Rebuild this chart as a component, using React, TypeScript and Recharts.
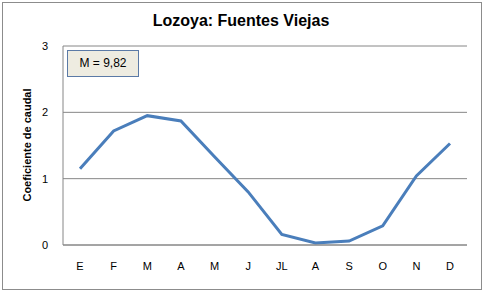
import { LineChart, Line, XAxis, YAxis, CartesianGrid } from 'recharts'

// Monthly flow coefficients (reading from the reference)
const MONTHS = ['E', 'F', 'M', 'A', 'M', 'J', 'JL', 'A', 'S', 'O', 'N', 'D']
const COEFS = [1.15, 1.72, 1.95, 1.87, 1.33, 0.8, 0.16, 0.03, 0.06, 0.29, 1.04, 1.53]
const Y_TICKS = [0, 1, 2, 3]

const TITLE = 'Lozoya: Fuentes Viejas'
const Y_LABEL = 'Coeficiente de caudal'
const NOTE = 'M = 9,82'

const data = MONTHS.map((m, i) => ({ key: i, month: m, coef: COEFS[i] }))

const GRID = '#868686'
const LINE = '#4a7ebb'
const FONT = '"Liberation Sans", Arial, sans-serif'

export default function App() {
  return (
    <div style={{ position: 'absolute', left: 0, top: 0, width: 484, height: 292, background: '#fff', fontFamily: FONT }}>
      <div
        style={{
          position: 'absolute',
          left: 2,
          top: 2,
          width: 478,
          height: 286,
          border: '1px solid #8c8c8c',
        }}
      />
      <div
        style={{
          position: 'absolute',
          left: 0,
          top: 12,
          width: 482,
          textAlign: 'center',
          fontWeight: 'bold',
          fontSize: 16,
          color: '#000',
        }}
      >
        {TITLE}
      </div>
      <LineChart
        width={484}
        height={292}
        data={data}
        margin={{ top: 46, right: 17, bottom: 0, left: 0 }}
        style={{ position: 'absolute', left: 0, top: 0 }}
      >
        <CartesianGrid vertical={false} stroke={GRID} strokeWidth={1} />
        <XAxis
          dataKey="key"
          tickFormatter={(i) => MONTHS[i]}
          tickLine={false}
          axisLine={{ stroke: GRID }}
          padding={{ left: 17, right: 17 }}
          tickSize={0}
          tickMargin={17}
          tick={{ fontSize: 11, fill: '#000', fontFamily: FONT }}
          interval={0}
          height={47}
        />
        <YAxis
          domain={[0, 3]}
          ticks={Y_TICKS}
          width={63}
          tickLine={false}
          axisLine={{ stroke: GRID }}
          tickSize={0}
          tickMargin={15}
          tick={{ fontSize: 11, fill: '#000', fontFamily: FONT }}
          label={{
            content: () => (
              <text
                x={31}
                y={145}
                transform="rotate(-90 31 145)"
                textAnchor="middle"
                fontSize={11}
                fontWeight="bold"
                fontFamily={FONT}
                fill="#000"
              >
                {Y_LABEL}
              </text>
            ),
          }}
        />
        <Line
          type="linear"
          dataKey="coef"
          stroke={LINE}
          strokeWidth={3}
          dot={false}
          isAnimationActive={false}
        />
      </LineChart>
      <div
        style={{
          position: 'absolute',
          left: 67,
          top: 50,
          width: 70,
          height: 25,
          background: '#eeece1',
          border: '1px solid #5b7aa6',
          fontSize: 12,
          lineHeight: '25px',
          textAlign: 'center',
          color: '#000',
        }}
      >
        {NOTE}
      </div>
    </div>
  )
}
